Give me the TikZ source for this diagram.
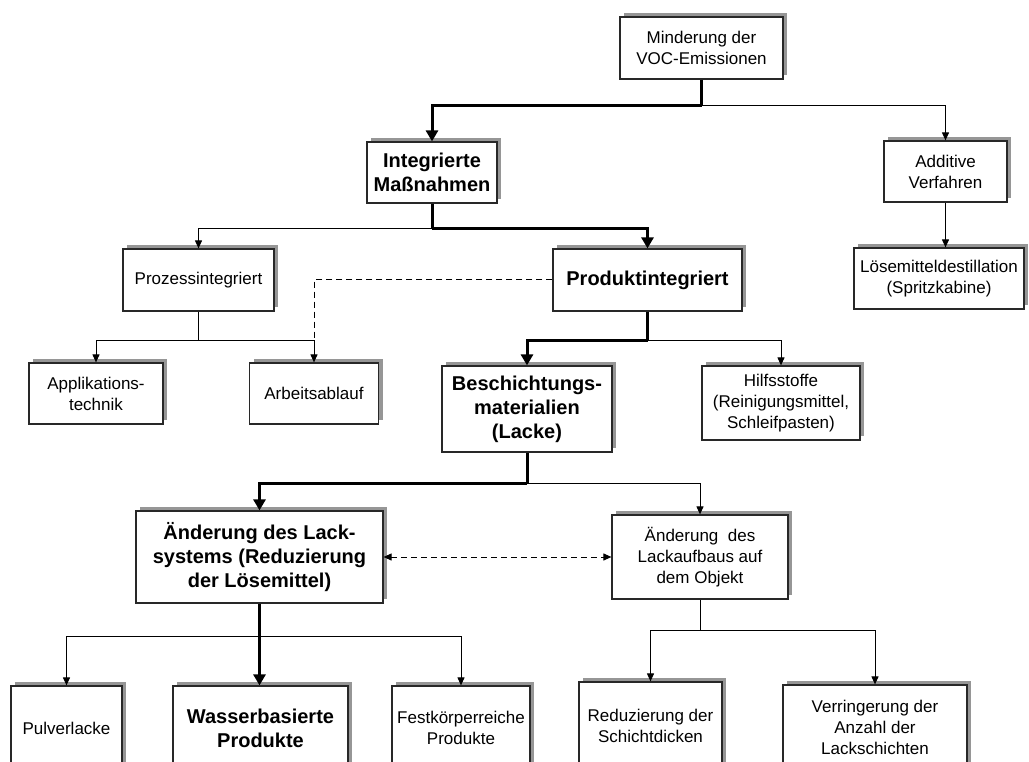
\documentclass[tikz,border=0pt]{standalone}
\usepackage{fontspec}
\setmainfont{Liberation Sans}
\usetikzlibrary{arrows.meta,shadows}
\definecolor{shade}{RGB}{150,150,150}
\definecolor{edge}{RGB}{40,40,40}
\tikzset{
  box/.style={draw=edge, line width=1.2pt, fill=white, inner sep=0pt, align=center,
    drop shadow={shadow xshift=4pt, shadow yshift=4pt, fill=shade, opacity=1},
    font=\fontsize{17}{21}\selectfont},
  boldbox/.style={box, font=\fontsize{20}{24}\selectfont\bfseries},
  thinlink/.style={line width=1pt, -{Triangle[length=8pt,width=7pt]}},
  thinline/.style={line width=1pt},
  thicklink/.style={line width=3pt, -{Triangle[length=11pt,width=12pt]}},
  thickline/.style={line width=3pt},
  dashlink/.style={line width=1pt, dash pattern=on 6pt off 4pt},
}
\begin{document}
\begin{tikzpicture}[x=1pt, y=-1pt]
\clip (0,0) rectangle (1029,762);
\fill[white] (0,0) rectangle (1029,762);

% boxes
\node[box, minimum width=163pt, minimum height=62pt] (m) at (701.5,48) {Minderung der\\VOC-Emissionen};
\node[boldbox, minimum width=130pt, minimum height=61pt] (int) at (432,172.5) {Integrierte\\Maßnahmen};
\node[box, minimum width=123pt, minimum height=61pt] (add) at (945.5,171.5) {Additive\\Verfahren};
\node[box, minimum width=170pt, minimum height=61pt] (loes) at (939,278.5) {Lösemitteldestillation\\(Spritzkabine)};
\node[box, minimum width=151pt, minimum height=62pt] (proz) at (198.5,280) {Prozessintegriert};
\node[boldbox, minimum width=189pt, minimum height=62pt] (prod) at (647.5,280) {Produktintegriert};
\node[box, minimum width=134pt, minimum height=61pt] (appl) at (96,393.5) {Applikations-\\technik};
\node[box, minimum width=129pt, minimum height=61pt] (arb) at (314,393.5) {Arbeitsablauf};
\node[boldbox, minimum width=170pt, minimum height=86pt] (besch) at (527,409) {Beschichtungs-\\materialien\\(Lacke)};
\node[box, minimum width=158pt, minimum height=74pt] (hilf) at (781,403) {Hilfsstoffe\\(Reinigungsmittel,\\Schleifpasten)};
\node[boldbox, minimum width=247pt, minimum height=92pt] (aels) at (259.5,557) {Änderung des Lack-\\systems (Reduzierung\\der Lösemittel)};
\node[box, minimum width=176pt, minimum height=84pt] (aela) at (700,557) {Änderung~ des\\Lackaufbaus auf\\dem Objekt};
\node[box, minimum width=111pt, minimum height=84pt] (pulv) at (66.5,728) {Pulverlacke};
\node[boldbox, minimum width=175pt, minimum height=84pt] (wass) at (260.5,728) {Wasserbasierte\\Produkte};
\node[box, minimum width=138pt, minimum height=84pt] (fest) at (461,728) {Festkörperreiche\\Produkte};
\node[box, minimum width=143pt, minimum height=88pt] (redu) at (650.5,726) {Reduzierung der\\Schichtdicken};
\node[box, minimum width=184pt, minimum height=85pt] (verr) at (875,727.5) {Verringerung der\\Anzahl der\\Lackschichten};

% branch points
\coordinate (j1) at (701.5,106);
\coordinate (j2) at (432,229);
\coordinate (j3) at (198.5,341);
\coordinate (j4) at (647.5,341);
\coordinate (j5) at (527,483);
\coordinate (j6) at (259.5,636);
\coordinate (j7) at (700,630);

% connectors
\draw[thickline] (m.south) -- (j1);
\draw[thicklink] (j1) -| (int.north);
\draw[thinlink] (j1) -| (add.north);
\draw[thinlink] (add.south) -- (add.south |- loes.north);

\draw[thickline] (int.south) -- (j2);
\draw[thicklink] (j2) -| (prod.north);
\draw[thinlink] (j2) -| (proz.north);

\draw[thinline] (proz.south) -- (j3);
\draw[thinlink] (j3) -| (appl.north);
\draw[dashlink] (prod.west) -| (j3 -| arb.north);
\draw[thinlink] (j3) -| (arb.north);

\draw[thickline] (prod.south) -- (j4);
\draw[thicklink] (j4) -| (besch.north);
\draw[thinlink] (j4) -| (hilf.north);

\draw[thickline] (besch.south) -- (j5);
\draw[thicklink] (j5) -| (aels.north);
\draw[thinlink] (j5) -| (aela.north);

\draw[dashlink, {Triangle[length=8pt,width=7pt]}-{Triangle[length=8pt,width=7pt]}] (aels.east) -- (aela.west);

\draw[thicklink] (aels.south) -- (aels.south |- wass.north);
\draw[thinline] (j6 -| pulv.north) -- (j6 -| fest.north);
\draw[thinlink] (j6 -| pulv.north) -- (pulv.north);
\draw[thinlink] (j6 -| fest.north) -- (fest.north);

\draw[thinline] (aela.south) -- (j7);
\draw[thinline] (j7 -| redu.north) -- (j7 -| verr.north);
\draw[thinlink] (j7 -| redu.north) -- (redu.north);
\draw[thinlink] (j7 -| verr.north) -- (verr.north);
\end{tikzpicture}
\end{document}
